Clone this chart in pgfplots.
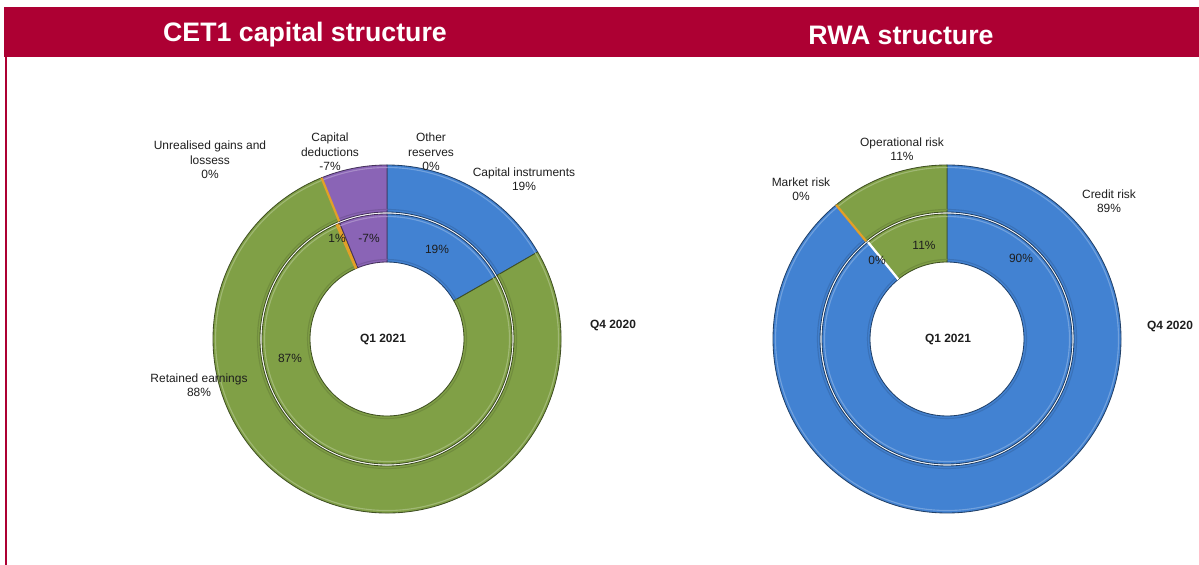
\documentclass[border=0pt]{standalone}
\usepackage{pgfplots}
\pgfplotsset{compat=1.18}
\usepackage{pgfplotstable}
\usetikzlibrary{calc}
\usepackage{fontspec}
\setmainfont{Liberation Sans}

\definecolor{hdr}{RGB}{173,0,51}
\definecolor{cblue}{RGB}{66,130,210}
\definecolor{cgreen}{RGB}{128,160,70}
\definecolor{cpurple}{RGB}{138,100,182}
\definecolor{corange}{RGB}{226,160,40}
\definecolor{txt}{RGB}{30,30,30}

% CET1 capital structure, outer ring = Q4 2020, inner ring = Q1 2021
\pgfplotstableread{
label value col
CapitalInstruments 19 cblue
RetainedEarnings 88 cgreen
UnrealisedGains 0 corange
CapitalDeductions -7 cpurple
OtherReserves 0 none
}\cetQfour
\pgfplotstableread{
label value col
CapitalInstruments 19 cblue
RetainedEarnings 87 cgreen
UnrealisedGains 0.5 corange
CapitalDeductions -7 cpurple
OtherReserves 0 none
}\cetQone
% RWA structure
\pgfplotstableread{
label value col
CreditRisk 89 cblue
MarketRisk 0 corange
OperationalRisk 11 cgreen
}\rwaQfour
\pgfplotstableread{
label value col
CreditRisk 90 cblue
MarketRisk 0 white
OperationalRisk 11 cgreen
}\rwaQone

\def\nonestr{none}
% #1 table, #2 cx, #3 cy, #4 inner radius (px), #5 outer radius (px)
\newcommand{\donut}[5]{%
  \pgfplotstablegetrowsof{#1}\pgfmathtruncatemacro{\nr}{\pgfplotsretval-1}%
  \pgfmathsetmacro{\ri}{#4*0.025}\pgfmathsetmacro{\ro}{#5*0.025}%
  \pgfmathsetmacro{\rii}{(#4+2.5)*0.025}\pgfmathsetmacro{\roo}{(#5-2.5)*0.025}%
  \gdef\tot{0}%
  \foreach \i in {0,...,\nr}{%
    \pgfplotstablegetelem{\i}{value}\of{#1}%
    \pgfmathsetmacro{\tt}{\tot+abs(\pgfplotsretval)}\xdef\tot{\tt}}%
  \gdef\acc{90}%
  \foreach \i in {0,...,\nr}{%
    \pgfplotstablegetelem{\i}{value}\of{#1}%
    \pgfmathsetmacro{\vv}{abs(\pgfplotsretval)}%
    \pgfplotstablegetelem{\i}{col}\of{#1}\edef\cc{\pgfplotsretval}%
    \pgfmathsetmacro{\bb}{\acc-360*(\vv/\tot)}%
    \ifdim\vv pt>0.05pt
      \filldraw[fill=\cc, draw=\cc!50!black, line width=0.6pt]
        ($(axis cs:#2,#3)+(\acc:\ro cm)$) arc[start angle=\acc, end angle=\bb, radius=\ro cm]
        -- ($(axis cs:#2,#3)+(\bb:\ri cm)$) arc[start angle=\bb, end angle=\acc, radius=\ri cm] -- cycle;
      \draw[\cc!75!white, line width=0.8pt, line cap=round]
        ($(axis cs:#2,#3)+(\acc:\roo cm)$) arc[start angle=\acc, end angle=\bb, radius=\roo cm];
      \draw[\cc!88!black, line width=0.8pt, line cap=round]
        ($(axis cs:#2,#3)+(\acc:\rii cm)$) arc[start angle=\acc, end angle=\bb, radius=\rii cm];
    \fi
    \xdef\acc{\bb}}%
  \gdef\acc{90}%
  \foreach \i in {0,...,\nr}{%
    \pgfplotstablegetelem{\i}{value}\of{#1}%
    \pgfmathsetmacro{\vv}{abs(\pgfplotsretval)}%
    \pgfplotstablegetelem{\i}{col}\of{#1}\edef\cc{\pgfplotsretval}%
    \pgfmathsetmacro{\bb}{\acc-360*(\vv/\tot)}%
    \ifdim\vv pt<0.8pt
      \ifx\cc\nonestr\else
        \draw[\cc, line width=1.6pt] ($(axis cs:#2,#3)+(\acc:\ri cm)$) -- ($(axis cs:#2,#3)+(\acc:\ro cm)$);
      \fi
    \fi
    \xdef\acc{\bb}}%
}

\begin{document}
\begin{tikzpicture}
\begin{axis}[
  x=0.025cm, y=0.025cm,
  xmin=0, xmax=1199, ymin=0, ymax=565,
  hide axis, clip=false,
]
% full canvas
\path (axis cs:0,0) rectangle (axis cs:1199,565);
% header band and frame line
\fill[hdr] (axis cs:4,508) rectangle (axis cs:1199,558);
\fill[hdr] (axis cs:4.5,0) rectangle (axis cs:6.8,508);
\node[text=white, font=\bfseries\fontsize{19}{22}\selectfont] at (axis cs:305,530) {CET1 capital structure};
\node[text=white, font=\bfseries\fontsize{19}{22}\selectfont] at (axis cs:901,530) {RWA structure};

\pgfplotsextra{%
  \donut{\cetQfour}{387}{226}{127}{174}%
  \donut{\cetQone}{387}{226}{77}{125}%
  \donut{\rwaQfour}{947}{226}{127}{174}%
  \donut{\rwaQone}{947}{226}{77}{125}%
}

\begin{scope}[every node/.style={text=txt, align=center, font=\fontsize{8.5}{10.3}\selectfont}]
% CET1 labels
\node at (axis cs:210,405) {Unrealised gains and\\lossess\\0\%};
\node at (axis cs:330,413) {Capital\\deductions\\-7\%};
\node at (axis cs:431,413) {Other\\reserves\\0\%};
\node at (axis cs:524,386) {Capital instruments\\19\%};
\node at (axis cs:199,180) {Retained earnings\\88\%};
\node at (axis cs:437,316) {19\%};
\node at (axis cs:369,327) {-7\%};
\node at (axis cs:337,327) {1\%};
\node at (axis cs:290,207) {87\%};
\node[font=\bfseries\fontsize{8.5}{10.3}\selectfont] at (axis cs:613,239) {Q4 2020};
\node[font=\bfseries\fontsize{8.5}{10.3}\selectfont] at (axis cs:383,225) {Q1 2021};
% RWA labels
\node at (axis cs:902,416) {Operational risk\\11\%};
\node at (axis cs:801,376) {Market risk\\0\%};
\node at (axis cs:1109,364) {Credit risk\\89\%};
\node at (axis cs:1021,307) {90\%};
\node at (axis cs:924,320) {11\%};
\node at (axis cs:877,305) {0\%};
\node[font=\bfseries\fontsize{8.5}{10.3}\selectfont] at (axis cs:1170,238) {Q4 2020};
\node[font=\bfseries\fontsize{8.5}{10.3}\selectfont] at (axis cs:948,225) {Q1 2021};
\end{scope}
\end{axis}
\end{tikzpicture}
\end{document}
